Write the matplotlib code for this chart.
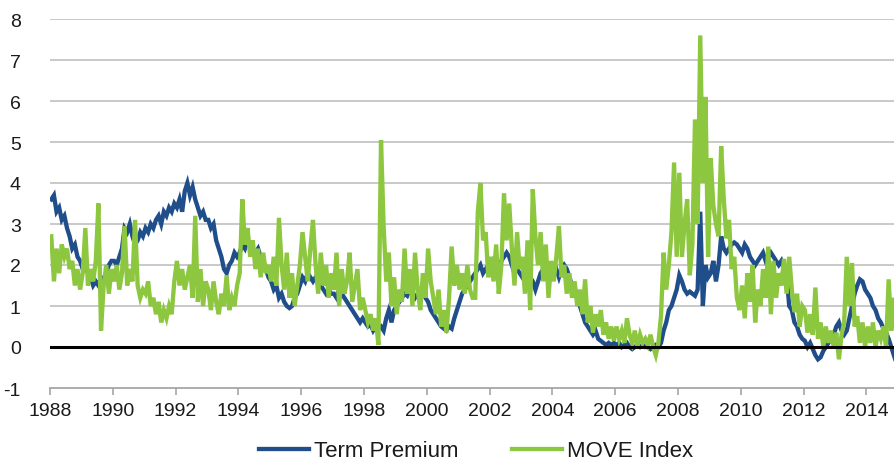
import numpy as np
import matplotlib
matplotlib.use("Agg")
import matplotlib.pyplot as plt

plt.rcParams['font.family'] = ['Liberation Sans', 'DejaVu Sans']

# Monthly observations, Jan 1988 - Dec 2014 (percentage points)
term_premium = [
    3.6, 3.7, 3.3, 3.4, 3.1, 3.2, 2.9, 2.7, 2.4, 2.5, 2.2, 2.1,   # 1988
    1.9, 2.0, 1.8, 1.7, 1.5, 1.6, 1.5, 1.7, 1.6, 1.8, 2.0, 2.1,   # 1989
    2.1, 2.0, 2.2, 2.4, 2.9, 2.8, 3.0, 2.7, 2.5, 2.6, 2.8, 2.7,   # 1990
    2.9, 2.8, 3.0, 2.9, 3.1, 3.2, 3.0, 3.3, 3.2, 3.4, 3.3, 3.5,   # 1991
    3.4, 3.6, 3.3, 3.8, 4.0, 3.7, 3.9, 3.6, 3.4, 3.2, 3.3, 3.1,   # 1992
    3.1, 2.9, 3.0, 2.6, 2.4, 2.2, 1.9, 1.8, 2.0, 2.1, 2.3, 2.2,   # 1993
    2.3, 2.5, 2.4, 2.6, 2.5, 2.4, 2.3, 2.4, 2.2, 2.1, 1.9, 1.7,   # 1994
    1.6, 1.4, 1.5, 1.2, 1.3, 1.1, 1.0, 0.95, 1.0, 1.2, 1.3, 1.5,  # 1995
    1.7, 1.6, 1.8, 1.7, 1.6, 1.7, 1.6, 1.5, 1.4, 1.3, 1.4, 1.3,   # 1996
    1.3, 1.2, 1.4, 1.3, 1.2, 1.1, 1.0, 0.9, 0.8, 0.7, 0.6, 0.7,   # 1997
    0.6, 0.5, 0.55, 0.4, 0.5, 0.45, 0.5, 0.4, 0.7, 0.9, 0.6, 0.9, # 1998
    1.0, 1.1, 1.2, 1.3, 1.25, 1.4, 1.3, 1.2, 1.3, 1.4, 1.3, 1.2,  # 1999
    1.1, 0.9, 0.8, 0.7, 0.6, 0.5, 0.45, 0.4, 0.5, 0.45, 0.7, 0.9, # 2000
    1.1, 1.3, 1.4, 1.5, 1.6, 1.7, 1.8, 1.9, 2.0, 1.8, 1.9, 2.0,   # 2001
    1.9, 2.1, 2.0, 1.9, 2.1, 2.2, 2.3, 2.2, 2.0, 1.8, 1.9, 1.8,   # 2002
    1.7, 1.8, 1.6, 1.7, 1.6, 1.4, 1.6, 1.8, 1.9, 1.8, 1.7, 1.8,   # 2003
    1.8, 1.9, 1.7, 1.9, 2.0, 1.9, 1.7, 1.5, 1.3, 1.2, 1.0, 0.8,   # 2004
    0.6, 0.5, 0.4, 0.3, 0.4, 0.2, 0.15, 0.1, 0.05, 0.1, 0.05, 0.1,  # 2005
    0.05, 0.1, 0.0, 0.05, 0.1, 0.0, -0.05, 0.0, 0.05, 0.0, 0.05, 0.0,  # 2006
    0.0, -0.05, 0.0, 0.05, 0.0, 0.1, 0.4, 0.6, 0.9, 1.0, 1.2, 1.4,  # 2007
    1.75, 1.6, 1.4, 1.3, 1.35, 1.3, 1.25, 1.4, 3.3, 1.0, 2.0, 1.7,  # 2008
    1.8, 2.1, 1.6, 2.0, 2.7, 2.4, 2.3, 2.4, 2.5, 2.55, 2.5, 2.4,  # 2009
    2.3, 2.5, 2.4, 2.2, 2.1, 2.0, 2.1, 2.2, 2.3, 2.1, 2.2, 2.3,   # 2010
    2.2, 2.1, 2.0, 2.1, 1.9, 1.75, 1.0, 0.9, 0.6, 0.5, 0.3, 0.2,  # 2011
    0.15, 0.0, 0.1, -0.05, -0.2, -0.3, -0.25, -0.1, 0.0, 0.1, 0.2, 0.3,  # 2012
    0.5, 0.6, 0.4, 0.3, 0.4, 0.7, 1.0, 1.3, 1.5, 1.65, 1.6, 1.4,  # 2013
    1.3, 1.2, 1.0, 0.9, 0.7, 0.6, 0.45, 0.35, 0.2, 0.0, -0.2, -0.4,  # 2014
]

move_index = [
    2.7, 1.6, 2.4, 1.8, 2.5, 2.2, 2.4, 1.9, 2.1, 1.5, 1.9, 1.4,   # 1988
    1.8, 2.9, 1.5, 1.9, 1.6, 2.1, 3.5, 0.4, 1.5, 2.0, 1.3, 1.9,   # 1989
    1.6, 2.0, 1.4, 1.8, 2.95, 1.5, 1.9, 1.6, 3.1, 1.5, 1.2, 1.4,  # 1990
    1.3, 1.6, 1.0, 1.2, 0.8, 1.1, 0.6, 0.9, 0.7, 1.0, 0.8, 1.6,   # 1991
    2.1, 1.5, 1.9, 1.4, 1.7, 2.0, 1.2, 3.2, 1.1, 1.9, 1.0, 1.6,   # 1992
    1.4, 0.9, 1.6, 1.1, 0.8, 1.3, 1.0, 1.75, 0.9, 1.2, 1.0, 1.5,  # 1993
    1.8, 3.6, 2.5, 2.9, 2.2, 2.6, 1.9, 2.4, 1.7, 2.3, 1.8, 2.0,   # 1994
    1.6, 2.2, 1.5, 3.15, 2.0, 1.4, 2.3, 1.2, 1.8, 1.0, 1.5, 2.0,  # 1995
    2.8, 2.2, 1.6, 2.4, 3.1, 2.0, 1.3, 2.3, 1.5, 2.0, 1.2, 1.8,   # 1996
    1.4, 2.3, 1.0, 1.9, 1.3, 1.6, 2.3, 1.1, 1.5, 1.9, 0.9, 1.2,   # 1997
    0.9, 0.6, 0.8, 0.4, 0.7, 0.05, 5.05, 2.95, 1.6, 2.3, 1.0, 1.7,  # 1998
    0.8, 1.4, 1.1, 2.4, 1.3, 1.9, 1.0, 2.3, 1.4, 0.9, 1.8, 1.2,   # 1999
    2.4, 1.6, 1.2, 0.8, 1.4, 0.5, 0.9, 0.35, 1.2, 2.45, 1.5, 2.0,  # 2000
    1.4, 1.8, 1.3, 2.0, 1.4, 1.2, 1.2, 3.3, 4.0, 2.6, 2.8, 1.7,   # 2001
    2.2, 1.6, 2.5, 1.3, 2.0, 3.75, 2.6, 3.5, 2.4, 1.5, 2.8, 1.9,  # 2002
    2.2, 1.3, 2.6, 0.9, 3.85, 2.7, 2.0, 2.8, 1.6, 2.5, 1.2, 2.1,  # 2003
    1.6, 2.2, 2.95, 1.7, 2.0, 1.3, 1.8, 1.2, 1.6, 1.0, 1.4, 0.8,  # 2004
    1.65, 0.6, 1.0, 0.35, 0.8, 0.5, 0.9, 0.3, 0.6, 0.2, 0.5, 0.15,  # 2005
    0.5, 0.2, 0.4, 0.1, 0.7, 0.3, 0.1, 0.4, 0.0, 0.3, 0.1, 0.2,   # 2006
    0.05, 0.3, 0.0, -0.2, 0.1, 0.75, 2.3, 1.4, 2.0, 2.8, 4.5, 2.2,  # 2007
    4.25, 2.2, 3.0, 3.6, 1.75, 2.5, 5.55, 3.0, 7.6, 4.0, 6.1, 2.2,  # 2008
    4.6, 3.45, 3.0, 2.7, 4.9, 3.6, 2.65, 3.1, 1.9, 2.2, 1.2, 0.9,  # 2009
    1.5, 0.7, 1.8, 1.1, 2.0, 0.6, 1.4, 1.0, 1.9, 1.2, 2.45, 0.8,  # 2010
    2.1, 1.2, 1.8, 1.5, 2.15, 1.3, 2.2, 1.4, 0.85, 1.3, 0.5, 1.0,  # 2011
    0.9, 0.35, 0.8, 0.3, 1.45, 0.2, 0.6, 0.0, 0.5, 0.1, 0.4, 0.0,  # 2012
    0.35, -0.3, 0.3, 0.6, 2.2, 1.0, 2.05, 0.5, 0.75, 0.1, 0.6, 0.0,  # 2013
    0.5, 0.1, 0.6, 0.0, 0.4, 0.2, 0.5, 0.0, 1.65, 0.4, 1.2, 0.2,  # 2014
]

start_year = 1988
year_ticks = list(range(1988, 2015, 2))
value_ticks = list(range(-1, 9))
series_names = ["Term Premium", "MOVE Index"]

dates = start_year + (np.arange(len(term_premium)) + 0.5) / 12.0

blue = "#1f4e8a"
green = "#8dc63f"
grid_grey = "#c9c9c9"
text_color = "#1a1a1a"

fig = plt.figure(figsize=(8.94, 4.64), dpi=100)
ax = fig.add_axes([50 / 894, 1 - 389 / 464, 1 - 50 / 894, (389 - 20) / 464])

ax.plot(dates, term_premium, color=blue, lw=3.1, label=series_names[0],
        solid_joinstyle="miter", zorder=3)
ax.plot(dates, move_index, color=green, lw=3.1, label=series_names[1],
        solid_joinstyle="miter", zorder=4)

ax.set_xlim(1988, 1988 + (894 - 50) / 31.4)
ax.set_ylim(-1, 8)

for v in value_ticks[1:]:
    if v == 0:
        ax.axhline(0, color="black", lw=2.2, zorder=5)
    else:
        ax.axhline(v, color=grid_grey, lw=1.4, zorder=1)

for side in ["top", "right", "left"]:
    ax.spines[side].set_visible(False)
ax.spines["bottom"].set_color("#a6a6a6")
ax.spines["bottom"].set_linewidth(1.3)

ax.set_xticks(year_ticks)
ax.set_xticklabels([str(y) for y in year_ticks])
ax.set_yticks(value_ticks)
ax.set_yticklabels([str(v) for v in value_ticks])
ax.tick_params(axis="x", direction="out", length=5, width=1.2,
               color="#a6a6a6", labelsize=14, pad=5, labelcolor=text_color)
ax.tick_params(axis="y", length=0, labelsize=14, pad=21, labelcolor=text_color)

leg = fig.legend(loc="center", bbox_to_anchor=(476 / 894, 1 - 452 / 464), ncol=2,
                 frameon=False, fontsize=16, handlelength=2.25, handletextpad=0.22,
                 columnspacing=2.4)
for txt in leg.get_texts():
    txt.set_color(text_color)

fig.savefig("out.png", dpi=100)
